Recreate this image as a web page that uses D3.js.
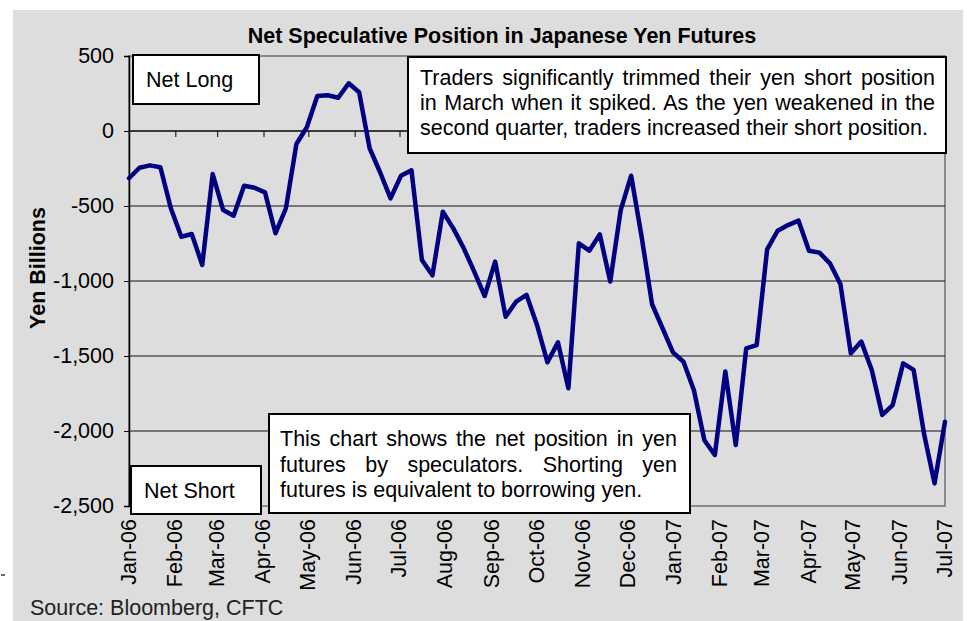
<!DOCTYPE html>
<html><head><meta charset="utf-8">
<script src="https://cdn.jsdelivr.net/npm/d3@7/dist/d3.min.js"></script>
<style>
html,body{margin:0;padding:0;background:#fff;}
svg{display:block;font-family:"Liberation Sans",Arial,sans-serif;}
</style></head>
<body>
<svg id="chart" width="967" height="621"></svg>
<script>
// ---- data ----
const chartTitle = "Net Speculative Position in Japanese Yen Futures";
const yTitle = "Yen Billions";
const sourceText = "Source: Bloomberg, CFTC";
const seriesStart = "2006-01-01";   // weekly observations
const netPosition = [-315,-245,-229,-242,-515,-705,-687,-893,-287,-527,
  -565,-365,-378,-409,-682,-515,-87,25,233,238,
  222,318,258,-115,-275,-449,-298,-262,-860,-962,
  -538,-649,-782,-938,-1100,-871,-1238,-1138,-1093,-1293,
  -1542,-1409,-1715,-749,-798,-689,-1004,-527,-298,-705,
  -1155,-1315,-1476,-1538,-1728,-2062,-2160,-1604,-2093,-1449,
  -1427,-789,-665,-627,-598,-798,-811,-882,-1020,-1482,
  -1404,-1593,-1893,-1827,-1549,-1593,-2020,-2349,-1938];
const monthLabels = ["Jan-06","Feb-06","Mar-06","Apr-06","May-06","Jun-06","Jul-06","Aug-06","Sep-06","Oct-06","Nov-06","Dec-06","Jan-07","Feb-07","Mar-07","Apr-07","May-07","Jun-07","Jul-07"];
const yTickValues = [500,0,-500,-1000,-1500,-2000,-2500];
const yTickLabels = ["500","0","-500","-1,000","-1,500","-2,000","-2,500"];
const noteTop = ["Traders significantly trimmed their yen short position",
                 "in March when it spiked. As the yen weakened in the",
                 "second quarter, traders increased their short position."];
const noteBottom = ["This chart shows the net position in yen",
                    "futures by speculators. Shorting yen",
                    "futures is equivalent to borrowing yen."];
const labelLong = "Net Long";
const labelShort = "Net Short";

// ---- layout ----
const svg = d3.select("#chart");
const L = 129, R = 945, T = 56, B = 506;
const FS = 21.5;

svg.append("rect").attr("x",13).attr("y",10).attr("width",950).attr("height",620).attr("fill","#dddddd");
svg.append("line").attr("x1",1).attr("x2",5).attr("y1",575).attr("y2",575).attr("stroke","#000").attr("stroke-width",1.2);

const parse = d3.timeParse("%Y-%m-%d");
const t0 = parse(seriesStart);
const dates = netPosition.map((v,i)=>d3.timeDay.offset(t0, 7*i));
const months = d3.timeMonth.range(parse("2006-01-01"), parse("2007-07-02"));

const x = d3.scaleTime().domain([parse("2006-01-01"), parse("2007-07-01")]).range([L,R]);
const y = d3.scaleLinear().domain([-2500,500]).range([B,T]);

// plot area
svg.append("rect").attr("x",L).attr("y",T).attr("width",R-L).attr("height",B-T)
  .attr("fill","#dddddd").attr("stroke","#8a8a8a").attr("stroke-width",2);

// gridlines
svg.append("g").selectAll("line").data(yTickValues.filter(v=>v<500 && v>-2500)).join("line")
  .attr("x1",L).attr("x2",R).attr("y1",d=>y(d)).attr("y2",d=>y(d))
  .attr("stroke","#111").attr("stroke-width",1);

// y axis
const yAxis = d3.axisLeft(y).tickValues(yTickValues)
  .tickFormat((d,i)=>yTickLabels[i]).tickSize(5).tickPadding(10);
const gy = svg.append("g").attr("transform",`translate(${L},0)`).call(yAxis);
gy.select(".domain").attr("stroke","#000").attr("stroke-width",1.5);
gy.selectAll(".tick line").attr("stroke","#000");
gy.selectAll(".tick text").attr("font-size",FS).attr("font-family","Liberation Sans, Arial, sans-serif").attr("fill","#000");

// x axis ticks at zero line
const xAxis = d3.axisBottom(x).tickValues(months).tickFormat("").tickSize(6);
const gx = svg.append("g").attr("transform",`translate(0,${y(0)})`).call(xAxis);
gx.select(".domain").remove();
gx.selectAll(".tick line").attr("stroke","#000");
svg.append("line").attr("x1",L).attr("x2",R).attr("y1",y(0)).attr("y2",y(0)).attr("stroke","#000").attr("stroke-width",1.2);

// x labels
svg.append("g").selectAll("text").data(months).join("text")
  .attr("transform",(d)=>`translate(${x(d)+6.5},${519}) rotate(-90)`)
  .attr("text-anchor","end").attr("font-size",FS).attr("fill","#000")
  .text((d,i)=>monthLabels[i]);

// line
const line = d3.line().x((d,i)=>x(dates[i])).y(d=>y(d));
svg.append("path").datum(netPosition).attr("d",line)
  .attr("fill","none").attr("stroke","#000080").attr("stroke-width",4.5)
  .attr("stroke-linejoin","round").attr("stroke-linecap","round");

// title
svg.append("text").attr("x",502).attr("y",43).attr("text-anchor","middle")
  .attr("font-size",FS).attr("font-weight","bold").text(chartTitle);
svg.append("text").attr("transform","translate(45,268) rotate(-90)").attr("text-anchor","middle")
  .attr("font-size",FS).attr("font-weight","bold").text(yTitle);
svg.append("text").attr("x",30).attr("y",615).attr("font-size",FS).attr("fill","#222").text(sourceText);

// boxes
function box(x0,y0,w,h){
  svg.append("rect").attr("x",x0).attr("y",y0).attr("width",w).attr("height",h)
    .attr("fill","#fff").attr("stroke","#000").attr("stroke-width",2);
}
function para(lines, x0, y0, lh, width){
  lines.forEach((s,i)=>{
    const t = svg.append("text").attr("x",x0).attr("y",y0+i*lh).attr("font-size",FS).text(s);
    if(i < lines.length-1){
      const len = t.node().getComputedTextLength();
      const n = (s.match(/ /g)||[]).length;
      if(n>0) t.style("word-spacing", ((width-len)/n)+"px");
    }
  });
}
box(133,55,126,49);
svg.append("text").attr("x",146).attr("y",87).attr("font-size",FS).text(labelLong);
box(408,57,538,96);
para(noteTop, 420, 85, 25, 515);
box(269,414,421,99);
para(noteBottom, 280, 446, 25.5, 397);
box(131,466,130,48);
svg.append("text").attr("x",144).attr("y",498).attr("font-size",FS).text(labelShort);
</script>
</body></html>
